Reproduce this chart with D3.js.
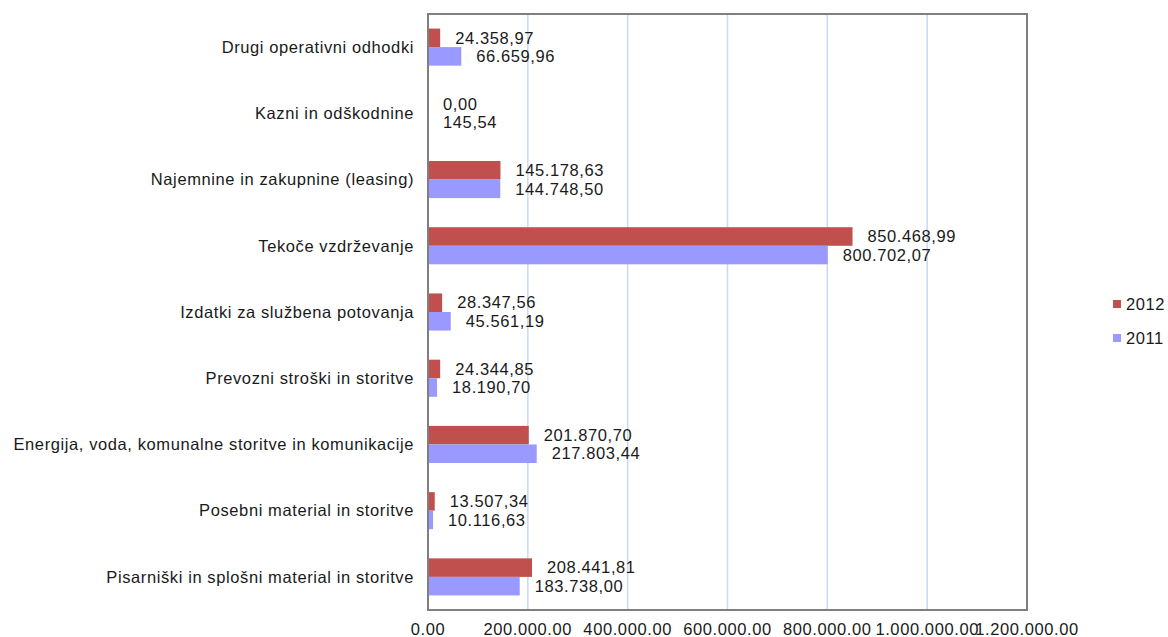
<!DOCTYPE html>
<html>
<head>
<meta charset="utf-8">
<script src="https://cdn.jsdelivr.net/npm/d3@7"></script>
<style>
  body { margin: 0; background: #fff; }
  text { font-family: "Liberation Sans", Arial, sans-serif; fill: #1a1a1a; letter-spacing: 0.6px; }
</style>
</head>
<body>
<div id="chart"></div>
<script>
var svgWidth = 1168;
var svgHeight = 637;

var categories = [
  "Drugi operativni odhodki",
  "Kazni in odškodnine",
  "Najemnine in zakupnine (leasing)",
  "Tekoče vzdrževanje",
  "Izdatki za službena potovanja",
  "Prevozni stroški in storitve",
  "Energija, voda, komunalne storitve in komunikacije",
  "Posebni material in storitve",
  "Pisarniški in splošni material in storitve"
];
var series = ["2012", "2011"];
var values2012 = [24358.97, 0, 145178.63, 850468.99, 28347.56, 24344.85, 201870.70, 13507.34, 208441.81];
var values2011 = [66659.96, 145.54, 144748.50, 800702.07, 45561.19, 18190.70, 217803.44, 10116.63, 183738.00];
var tickValues = [0, 200000, 400000, 600000, 800000, 1000000, 1200000];
var tickLabels = ["0.00", "200.000.00", "400.000.00", "600.000.00", "800.000.00", "1.000.000.00", "1.200.000.00"];
var colors = { "2012": "#C0504D", "2011": "#9999FF" };

var margin = { top: 14, left: 428, right: 141, bottom: 27 };
var width = svgWidth - margin.left - margin.right;
var height = svgHeight - margin.top - margin.bottom;
var fontSize = "16.5px";

var slLocale = d3.formatLocale({ decimal: ",", thousands: ".", grouping: [3], currency: ["", ""] });
var fmt = slLocale.format(",.2f");

var svg = d3.select("#chart").append("svg")
  .attr("width", svgWidth)
  .attr("height", svgHeight);

var chartGroup = svg.append("g")
  .attr("transform", `translate(${margin.left}, ${margin.top})`);

var x = d3.scaleLinear().domain([0, 1200000]).range([0, width]);
var y = d3.scaleBand().domain(categories).range([0, height]).paddingInner(0.44).paddingOuter(0.22);
var ySub = d3.scaleBand().domain(series).range([0, y.bandwidth()]);

// gridlines
chartGroup.selectAll(".grid")
  .data(tickValues.slice(1, -1))
  .enter().append("line")
  .attr("x1", d => x(d)).attr("x2", d => x(d))
  .attr("y1", 0).attr("y2", height)
  .attr("stroke", "#C9D9F0")
  .attr("stroke-width", 1.5);

var rows = categories.map(function(c, i) {
  return { cat: c, vals: [{ s: "2012", v: values2012[i] }, { s: "2011", v: values2011[i] }] };
});

var groups = chartGroup.selectAll(".row")
  .data(rows)
  .enter().append("g")
  .attr("transform", d => `translate(0, ${y(d.cat)})`);

groups.selectAll("rect")
  .data(d => d.vals)
  .enter().append("rect")
  .attr("x", 0)
  .attr("y", d => ySub(d.s))
  .attr("width", d => x(d.v))
  .attr("height", ySub.bandwidth())
  .attr("fill", d => colors[d.s]);

groups.selectAll(".lbl")
  .data(d => d.vals)
  .enter().append("text")
  .attr("x", d => x(d.v) + 15)
  .attr("y", d => ySub(d.s) + ySub.bandwidth() / 2)
  .attr("dy", "0.35em")
  .style("font-size", fontSize)
  .text(d => fmt(d.v));

// category labels
chartGroup.selectAll(".cat")
  .data(categories)
  .enter().append("text")
  .attr("x", -14)
  .attr("y", d => y(d) + y.bandwidth() / 2)
  .attr("dy", "0.35em")
  .attr("text-anchor", "end")
  .style("font-size", fontSize)
  .text(d => d);

// frame
chartGroup.append("rect")
  .attr("x", 0).attr("y", 0)
  .attr("width", width).attr("height", height)
  .attr("fill", "none")
  .attr("stroke", "#7F7F7F")
  .attr("stroke-width", 2);

// x tick labels
chartGroup.selectAll(".tick")
  .data(tickValues)
  .enter().append("text")
  .attr("x", d => x(d))
  .attr("y", height + 25)
  .attr("text-anchor", "middle")
  .style("font-size", fontSize)
  .text((d, i) => tickLabels[i]);

// legend
var legend = svg.selectAll(".legend")
  .data(series)
  .enter().append("g")
  .attr("transform", (d, i) => `translate(1113, ${304 + i * 34})`);

legend.append("rect")
  .attr("x", 0).attr("y", -4)
  .attr("width", 8).attr("height", 8)
  .attr("fill", d => colors[d]);

legend.append("text")
  .attr("x", 13)
  .attr("y", 0)
  .attr("dy", "0.35em")
  .style("font-size", fontSize)
  .text(d => d);
</script>
</body>
</html>
